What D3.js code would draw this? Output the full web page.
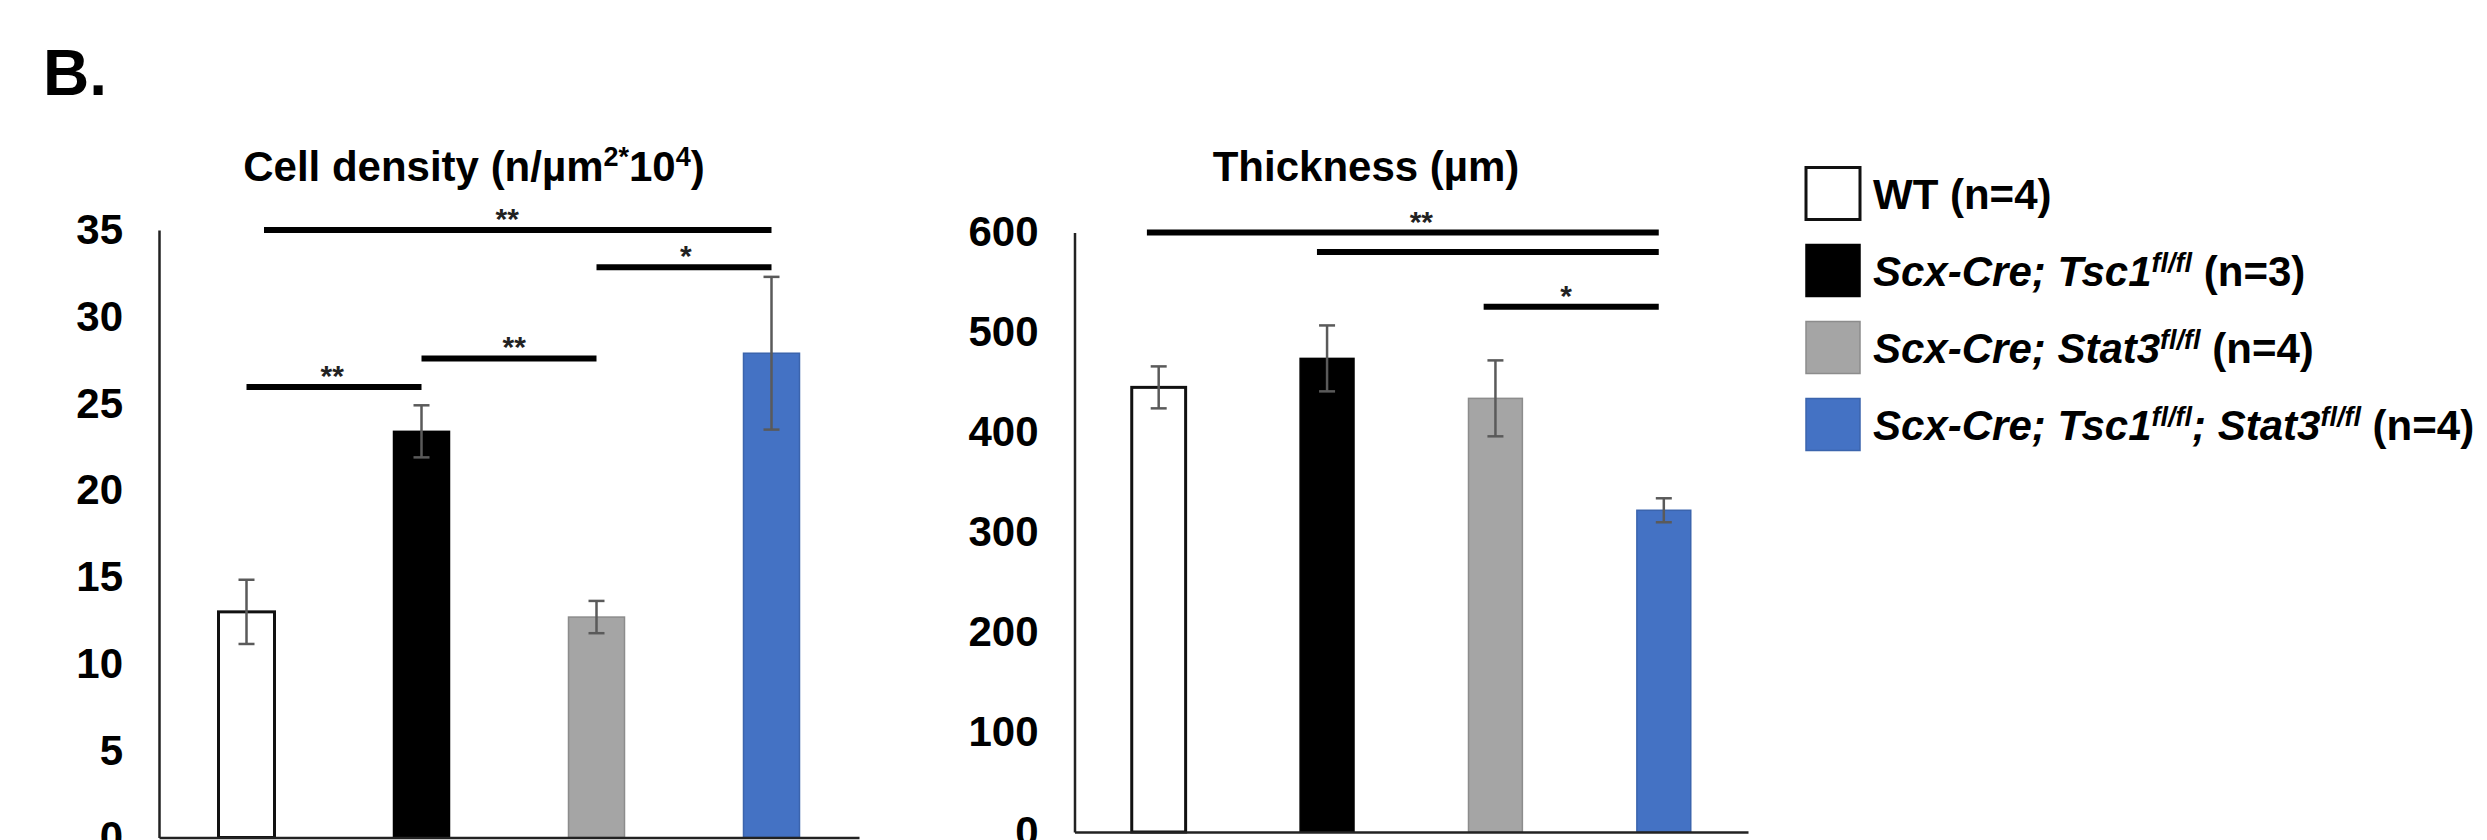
<!DOCTYPE html>
<html>
<head>
<meta charset="utf-8">
<script src="https://cdn.jsdelivr.net/npm/d3@7"></script>
<style>
  html, body { margin: 0; padding: 0; background: #fff; }
  svg { display: block; }
  text { font-family: "Liberation Sans", Arial, sans-serif; font-weight: bold; }
</style>
</head>
<body>
<svg id="chart" width="2487" height="840"></svg>
<script>
// ---------------- data ----------------
const categories = ["WT", "Scx-Cre; Tsc1fl/fl", "Scx-Cre; Stat3fl/fl", "Scx-Cre; Tsc1fl/fl; Stat3fl/fl"];
const sampleSizes = [4, 3, 4, 4];
const densityValues = [13.0, 23.4, 12.7, 27.9];
const densityErrors = [1.85, 1.5, 0.93, 4.4];
const thicknessValues = [445, 474, 434, 322];
const thicknessErrors = [21, 33, 38, 12];
const densityTicks = [0, 5, 10, 15, 20, 25, 30, 35];
const thicknessTicks = [0, 100, 200, 300, 400, 500, 600];
// significance brackets: [from index, to index, value, label, label index]
const densitySig = [
  [0.1, 3, 35.0, "**", 1.49],
  [2, 3, 32.86, "*", 2.51],
  [1, 2, 27.6, "**", 1.53],
  [0, 1, 25.95, "**", 0.49]
];
const thicknessSig = [
  [-0.07, 2.97, 600, "**", 1.56],
  [0.94, 2.97, 580.6, "", 0],
  [1.93, 2.97, 525.7, "*", 2.42]
];

// ---------------- styles ----------------
const fills = ["#ffffff", "#000000", "#a5a5a5", "#4472c4"];
const strokes = ["#111111", "#000000", "#8c8c8c", "#3b64ad"];

const svg = d3.select("#chart");

svg.append("text").attr("x", 43).attr("y", 95)
  .attr("font-size", 64).text("B.");

function drawChart(opts) {
  const x = d3.scaleBand().domain(categories)
    .range([opts.x0, opts.x1]).paddingInner(0.68).paddingOuter(0.34);
  const y = d3.scaleLinear().domain(opts.domain).range([opts.y0, opts.y1]);
  const idx = i => x(categories[0]) + x.bandwidth() / 2 + i * x.step();
  const g = svg.append("g");

  // title
  const t = g.append("text").attr("x", opts.titleX).attr("y", 181)
    .attr("text-anchor", "middle").attr("font-size", 42);
  opts.title(t);

  // bars
  g.selectAll("rect.bar").data(opts.values).join("rect")
    .attr("class", "bar")
    .attr("x", (d, i) => x(categories[i]))
    .attr("y", d => y(d))
    .attr("width", x.bandwidth())
    .attr("height", d => y(0) - y(d))
    .attr("fill", (d, i) => fills[i])
    .attr("stroke", (d, i) => strokes[i])
    .attr("stroke-width", (d, i) => i === 0 ? 3 : 1.5);

  // error bars
  const eb = g.selectAll("g.err").data(opts.values).join("g").attr("class", "err")
    .attr("stroke", "#5a5a5a").attr("stroke-width", 2.5);
  eb.append("line")
    .attr("x1", (d, i) => x(categories[i]) + x.bandwidth() / 2)
    .attr("x2", (d, i) => x(categories[i]) + x.bandwidth() / 2)
    .attr("y1", (d, i) => y(d + opts.errors[i]))
    .attr("y2", (d, i) => y(d - opts.errors[i]));
  [1, -1].forEach(s => {
    eb.append("line")
      .attr("x1", (d, i) => x(categories[i]) + x.bandwidth() / 2 - 8)
      .attr("x2", (d, i) => x(categories[i]) + x.bandwidth() / 2 + 8)
      .attr("y1", (d, i) => y(d + s * opts.errors[i]))
      .attr("y2", (d, i) => y(d + s * opts.errors[i]));
  });

  // axes
  const ya = g.append("g").attr("transform", `translate(${opts.x0},0)`)
    .call(d3.axisLeft(y).tickValues(opts.ticks).tickSize(0).tickPadding(36));
  ya.select(".domain").attr("stroke", "#222").attr("stroke-width", 2.5);
  ya.selectAll("text").attr("font-size", 42).attr("fill", "#000")
    .attr("font-family", '"Liberation Sans", Arial, sans-serif').attr("font-weight", "bold");
  const xa = g.append("g").attr("transform", `translate(0,${opts.y0})`)
    .call(d3.axisBottom(x).tickSize(0).tickFormat(""));
  xa.select(".domain").attr("stroke", "#222").attr("stroke-width", 2.5);

  // significance brackets
  opts.sig.forEach(s => {
    g.append("line")
      .attr("x1", idx(s[0])).attr("x2", idx(s[1]))
      .attr("y1", y(s[2])).attr("y2", y(s[2]))
      .attr("stroke", "#000").attr("stroke-width", 6);
    if (s[3]) {
      g.append("text").attr("x", idx(s[4])).attr("y", y(s[2]) - 1)
        .attr("text-anchor", "middle").attr("font-size", 30)
        .attr("fill", "#222").text(s[3]);
    }
  });
}

drawChart({
  x0: 159, x1: 859, y0: 837.5, y1: 230,
  domain: [0, 35], ticks: densityTicks,
  values: densityValues, errors: densityErrors, sig: densitySig,
  titleX: 474,
  title: t => {
    t.append("tspan").text("Cell density (n/\u00b5m");
    t.append("tspan").attr("font-size", 27).attr("dy", -15).text("2*");
    t.append("tspan").attr("font-size", 42).attr("dy", 15).text("10");
    t.append("tspan").attr("font-size", 27).attr("dy", -15).text("4");
    t.append("tspan").attr("font-size", 42).attr("dy", 15).text(")");
  }
});

drawChart({
  x0: 1074.5, x1: 1748, y0: 832, y1: 232.5,
  domain: [0, 600], ticks: thicknessTicks,
  values: thicknessValues, errors: thicknessErrors, sig: thicknessSig,
  titleX: 1366,
  title: t => t.text("Thickness (\u00b5m)")
});

// ---------------- legend ----------------
const legendY = d3.scalePoint().domain(categories).range([193.5, 424.5]);
const lg = svg.append("g");
lg.selectAll("rect").data(categories).join("rect")
  .attr("x", 1806).attr("y", d => legendY(d) - 26)
  .attr("width", 54).attr("height", 52)
  .attr("fill", (d, i) => fills[i]).attr("stroke", (d, i) => strokes[i])
  .attr("stroke-width", (d, i) => i === 0 ? 3 : 1.5);

categories.forEach((c, i) => {
  const t = lg.append("text").attr("x", 1873).attr("y", legendY(c) + 15)
    .attr("font-size", 42);
  if (i === 0) {
    t.append("tspan").text(`${c} (n=${sampleSizes[i]})`);
    return;
  }
  // split into gene parts with superscript "fl/fl"
  const parts = c.split("fl/fl");
  parts.forEach((p, j) => {
    if (p) t.append("tspan").attr("font-style", "italic").attr("font-size", 42)
      .attr("dy", j > 0 ? 14 : 0).text(p);
    if (j < parts.length - 1) {
      t.append("tspan").attr("font-style", "italic").attr("font-size", 27)
        .attr("dy", -14).text("fl/fl");
    }
  });
  t.append("tspan").attr("font-size", 42).attr("dy", 14).text(` (n=${sampleSizes[i]})`);
});
</script>
</body>
</html>
